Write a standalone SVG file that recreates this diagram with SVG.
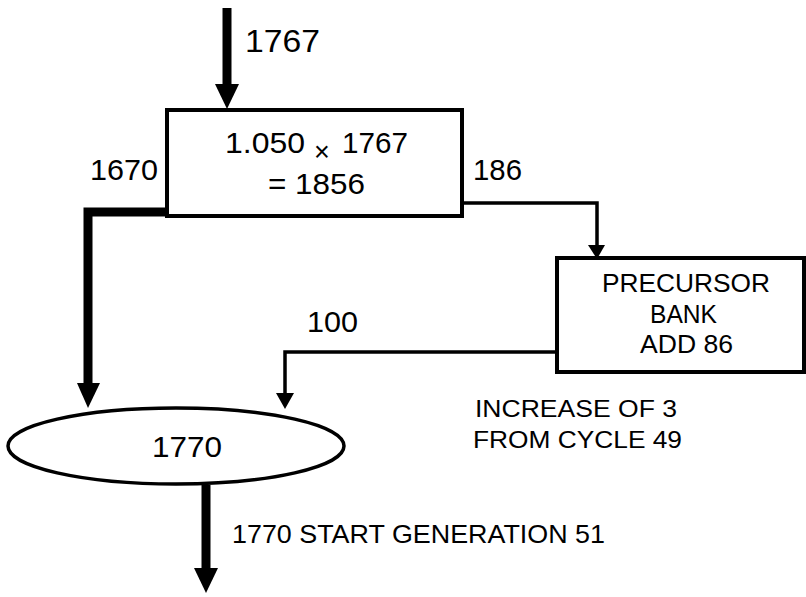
<svg xmlns="http://www.w3.org/2000/svg" width="806" height="597" viewBox="0 0 806 597">
<style>
text{font-family:"Liberation Sans",Arial,sans-serif;fill:#000}
.box{fill:#fff;stroke:#000;stroke-width:4}
.thick{fill:none;stroke:#000;stroke-width:9}
.thin{fill:none;stroke:#000;stroke-width:3.5}
</style>
<rect width="806" height="597" fill="#fff"/>
<g id="connectors">
<path class="thick" d="M227,8 V86"/>
<polygon points="215,84 239,84 227,109"/>
<path class="thick" d="M168,212 H88 V385"/>
<polygon points="77,383 100,383 88,408"/>
<path class="thin" d="M462,203 H597 V247"/>
<polygon points="588,245 605,245 597,259"/>
<path class="thin" d="M557,352 H285 V396"/>
<polygon points="276,393 294,393 285,409"/>
<path class="thick" d="M206,485 V570"/>
<polygon points="194,568 218,568 206,593"/>
</g>
<g id="box1">
<rect class="box" x="167" y="110" width="295" height="106"/>
<text y="153" font-size="30"><tspan x="225" textLength="80" lengthAdjust="spacingAndGlyphs">1.050</tspan><tspan x="314" y="161" font-size="27">×</tspan><tspan x="342" y="153" textLength="66" lengthAdjust="spacingAndGlyphs">1767</tspan></text>
<text x="268" y="194" font-size="30" textLength="97" lengthAdjust="spacingAndGlyphs">= 1856</text>
</g>
<g id="precursor">
<rect class="box" x="557" y="258" width="247" height="114"/>
<text x="602" y="292" font-size="25" textLength="168" lengthAdjust="spacingAndGlyphs">PRECURSOR</text>
<text x="650" y="323" font-size="25" textLength="67" lengthAdjust="spacingAndGlyphs">BANK</text>
<text x="640" y="353" font-size="25" textLength="93" lengthAdjust="spacingAndGlyphs">ADD 86</text>
</g>
<g id="result">
<ellipse cx="176" cy="446" rx="168" ry="38" fill="#fff" stroke="#000" stroke-width="3.5"/>
<text x="152" y="457" font-size="30" textLength="70" lengthAdjust="spacingAndGlyphs">1770</text>
</g>
<g id="labels">
<text x="245" y="52" font-size="32" textLength="75" lengthAdjust="spacingAndGlyphs">1767</text>
<text x="90" y="180" font-size="30" textLength="68" lengthAdjust="spacingAndGlyphs">1670</text>
<text x="473" y="180" font-size="30" textLength="49" lengthAdjust="spacingAndGlyphs">186</text>
<text x="307" y="332" font-size="30" textLength="51" lengthAdjust="spacingAndGlyphs">100</text>
<text x="475" y="417" font-size="24" textLength="202" lengthAdjust="spacingAndGlyphs">INCREASE OF 3</text>
<text x="473" y="448" font-size="24" textLength="209" lengthAdjust="spacingAndGlyphs">FROM CYCLE 49</text>
<text x="232" y="543" font-size="25" textLength="373" lengthAdjust="spacingAndGlyphs">1770 START GENERATION 51</text>
</g>
</svg>
